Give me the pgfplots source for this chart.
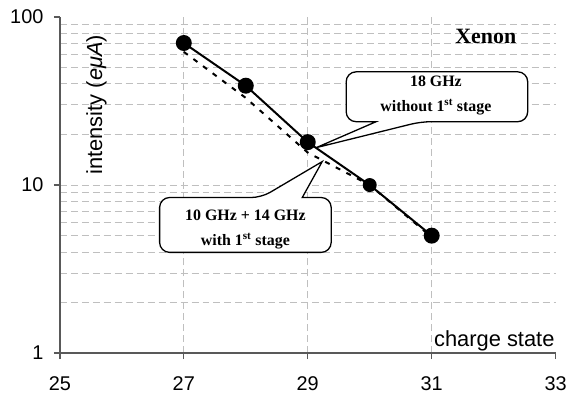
\documentclass[border=0pt]{standalone}
\usepackage{fontspec}
\setmainfont{Liberation Serif}
\setsansfont{Liberation Sans}
\usepackage{pgfplots}
\pgfplotsset{compat=1.18}
\begin{document}
\begin{tikzpicture}
\begin{axis}[
 scale only axis, width=497bp, height=337bp,
 xmin=25, xmax=33, ymin=1, ymax=100, ymode=log,
 axis x line*=bottom, axis y line*=left,
 axis line style={draw=black!65, line width=1.3bp},
 xtick={27,29,31}, xticklabels={27,29,31},
 extra x ticks={25,33}, extra x tick labels={25,33},
 extra x tick style={grid=none},
 ytick={1,10}, yticklabels={1,10},
 extra y ticks={100}, extra y tick labels={100},
 extra y tick style={grid=none},
 minor ytick={2,3,4,5,6,7,8,9,20,30,40,50,60,70,80,90},
 xmajorgrids, ymajorgrids, yminorgrids,
 grid style={draw=black!25, dash pattern=on 7bp off 4bp, line width=0.8bp},
 tick align=outside, major tick length=6bp, minor tick length=0pt,
 tick style={draw=black!65, line width=1.3bp},
 ticklabel style={font=\sffamily\fontsize{20}{24}\selectfont},
 xticklabel style={yshift=-14bp},
 yticklabel style={xshift=-7bp},
 ylabel={intensity (\textit{eμA})},
 ylabel style={font=\sffamily\fontsize{22}{26}\selectfont, at={(rel axis cs:0.074,0.739)}, anchor=center},
 xlabel={charge state},
 xlabel style={font=\sffamily\fontsize{22}{26}\selectfont, at={(rel axis cs:0.998,0.021)}, anchor=base east, inner sep=0pt},
 clip=false,
]
\addplot[black, line width=2bp, dash pattern=on 5bp off 7bp, mark=*, mark size=6bp, mark indices={4}, mark options={solid}]
 coordinates {(27,62)(28,33)(29,15.6)(30,10)(31,4.9)};
\addplot[black, line width=2bp, mark=*, mark size=7bp, mark indices={1,2,3,5}]
 coordinates {(27,70)(28,39)(29,18)(30,10)(31,5)};
\end{axis}
\begin{scope}[shift={([xshift=-60bp,yshift=17bp]current axis.north west)}, x=1bp, y=-1bp]
\node[font=\bfseries\fontsize{22}{26}\selectfont] at (487,37) {Xenon};
\draw[line width=1.3bp, fill=white, rounded corners=10bp] (438,72) -- (529,72) -- (529,122) -- (422,122) [sharp corners] -- (317,148) -- (377,122) [rounded corners=10bp] -- (347,122) -- (347,72) -- cycle;
\node[font=\bfseries\fontsize{16}{25}\selectfont, align=center] at (437,96) {18 GHz\\without 1\textsuperscript{st} stage};
\draw[line width=1.3bp, fill=white, rounded corners=10bp] (246,253) -- (160,253) -- (160,198) -- (262,198) [sharp corners] -- (323,162) -- (303,198) [rounded corners=10bp] -- (332,198) -- (332,253) -- cycle;
\node[font=\bfseries\fontsize{16}{25}\selectfont, align=center] at (246,230) {10 GHz + 14 GHz\\with 1\textsuperscript{st} stage};
\path (0,0) rectangle (570,393);
\end{scope}
\end{tikzpicture}
\end{document}
